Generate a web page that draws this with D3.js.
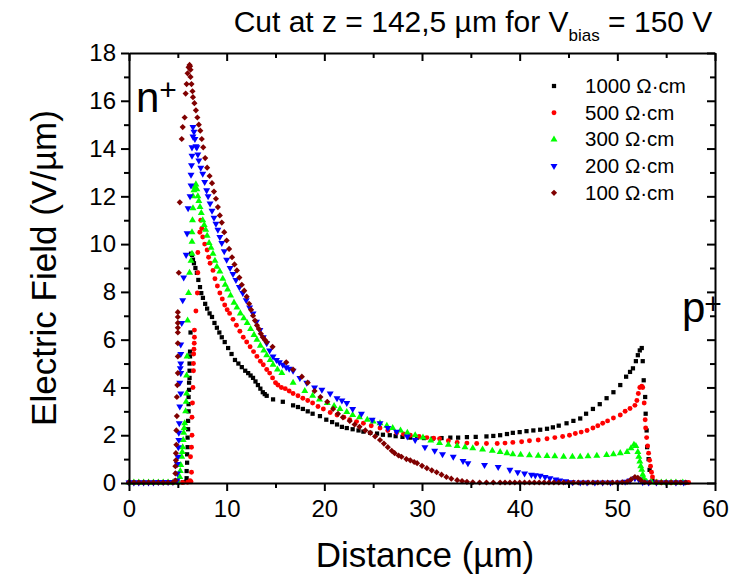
<!DOCTYPE html>
<html>
<head>
<meta charset="utf-8">
<script src="https://cdn.jsdelivr.net/npm/d3@7"></script>
<style>
  body { margin: 0; background: #fff; }
  svg text { font-family: "Liberation Sans", Arial, sans-serif; fill: #000; }
</style>
</head>
<body>
<svg id="chart" width="740" height="579"></svg>
<script>
// values: [distance (µm), field (V/µm)]
var series1000 = [
  [0,0.02],[0.5,0.02],[1,0.02],[1.5,0.02],[2,0.02],[2.5,0.02],[3,0.02],[3.5,0.02],[4,0.02],[4.5,0.02],[5,0.02],[5.5,0.03],
  [5.85,0.05],[5.9,0.2],[5.9,0.5],[5.95,0.85],[5.95,1.2],[6.0,1.5],[6.0,1.9],[6.05,2.25],[6.05,2.6],[6.1,3.0],[6.1,3.3],[6.1,3.6],
  [6.15,3.9],[6.15,4.2],[6.2,4.4],[6.2,4.7],[6.2,5.0],[6.25,5.3],[6.25,5.5],[6.3,6.3],
  [6.35,9.6],[6.45,9.55],[6.55,9.35],[6.65,9.2],[6.8,9.0],[6.95,8.8],[7.1,8.5],[7.27,8.2],[7.4,7.95],[7.57,7.75],[7.8,7.5],
  [8.0,7.3],[8.25,7.1],[8.5,6.95],[8.75,6.7],[9.0,6.5],[9.25,6.3],[9.5,6.1],[9.8,5.9],[10.15,5.65],[10.5,5.4],[10.85,5.15],
  [11.2,5.0],[11.55,4.85],[11.9,4.7],[12.2,4.6],[12.45,4.5],[12.7,4.4],[12.95,4.25],[13.2,4.1],[13.45,3.95],[13.7,3.8],
  [13.9,3.72],[14.1,3.65],[14.75,3.5],[15.75,3.4],[16.8,3.25],[17.3,3.18],[17.8,3.1],[18.3,3.0],[18.8,2.9],[19.55,2.8],
  [20.2,2.65],[20.8,2.55],[21.3,2.45],[21.8,2.35],[22.3,2.3],[22.9,2.25],[23.5,2.2],[24.0,2.15],[24.7,2.1],[25.4,2.07],
  [26.0,2.02],[26.7,2.0],[27.3,1.96],[28.0,1.93],[28.8,1.9],[29.5,1.9],[30.2,1.88],[31.1,1.86],[32.0,1.88],[32.9,1.9],
  [33.7,1.9],[34.6,1.92],[35.5,1.93],[36.6,1.95],[37.3,1.97],[38.0,2.0],[38.7,2.05],[39.3,2.1],[40.0,2.13],[40.7,2.17],
  [41.4,2.2],[42.1,2.23],[42.8,2.27],[43.4,2.33],[44.0,2.4],[44.8,2.5],[45.5,2.6],[46.2,2.7],[46.8,2.9],[47.5,3.1],
  [48.2,3.3],[48.9,3.55],[49.6,3.8],[50.3,4.1],[50.9,4.45],[51.3,4.65],[51.6,4.8],[51.9,5.1],[52.1,5.35],[52.3,5.55],
  [52.5,5.65],[52.6,5.1],[52.7,4.3],[52.85,3.6],[52.9,2.9],[53.0,2.2],[53.05,1.5],[53.2,1.0],[53.3,0.55],[53.6,0.1],
  [54,0.03],[54.5,0.02],[55,0.02],[55.5,0.02],[56,0.02],[56.5,0.02],[57,0.02]
];
var series500 = [
  [0,0.02],[0.5,0.02],[1,0.02],[1.5,0.02],[2,0.02],[2.5,0.02],[3,0.02],[3.5,0.02],[4,0.02],[4.5,0.02],[5,0.02],[5.5,0.02],[6,0.03],
  [6.25,0.1],[6.35,0.05],[6.4,0.45],[6.3,1.1],[6.4,1.5],[6.45,2.0],[6.45,2.75],[6.5,3.35],[6.55,4.0],[6.6,4.7],[6.6,5.0],
  [6.62,5.4],[6.65,5.6],[6.68,5.85],[6.7,6.1],[6.7,6.4],[6.85,7.2],[7.0,7.95],[7.05,8.8],[7.05,9.65],[7.25,10.5],
  [7.35,11.0],[7.45,10.65],[7.55,10.3],[7.75,10.0],[8.0,9.75],[8.15,9.45],[8.3,9.2],[8.6,8.9],[8.8,8.55],[9.05,8.25],
  [9.3,7.95],[9.55,7.7],[9.8,7.45],[10.05,7.25],[10.3,7.1],[10.65,6.85],[11.0,6.6],[11.35,6.35],[11.7,6.1],[12.05,5.9],
  [12.4,5.7],[12.75,5.5],[13.1,5.3],[13.45,5.1],[13.75,4.95],[14.1,4.75],[14.4,4.6],[14.7,4.4],[15.0,4.2],[15.25,4.1],
  [15.6,4.0],[16.0,3.95],[16.4,3.85],[16.8,3.75],[17.3,3.65],[17.8,3.55],[18.3,3.45],[18.8,3.35],[19.35,3.2],[19.9,3.1],
  [20.6,2.95],[21.3,2.85],[22.0,2.75],[22.6,2.65],[23.3,2.57],[24.0,2.5],[24.8,2.4],[25.7,2.3],[26.5,2.2],[27.4,2.1],
  [28.1,2.05],[28.8,2.0],[29.7,1.95],[30.5,1.9],[31.2,1.87],[31.8,1.85],[32.7,1.77],[33.6,1.7],[34.6,1.67],[35.6,1.65],
  [36.6,1.65],[37.7,1.65],[38.5,1.67],[39.3,1.7],[40.2,1.73],[41.0,1.77],[41.9,1.8],[42.8,1.85],[43.6,1.9],[44.4,1.95],
  [45.1,2.0],[45.7,2.07],[46.3,2.13],[46.9,2.2],[47.5,2.3],[48.0,2.4],[48.5,2.5],[49.0,2.6],[49.6,2.72],[50.3,2.85],
  [50.8,3.0],[51.3,3.12],[51.8,3.25],[52.0,3.45],[52.15,3.75],[52.3,4.0],[52.5,4.05],[52.6,4.0],[52.75,3.35],[52.85,2.65],
  [52.9,2.3],[53.0,1.9],[53.1,1.55],[53.2,1.25],[53.3,0.95],[53.4,0.7],[53.5,0.45],[53.6,0.25],[54.0,0.05],[54.5,0.03],
  [55,0.02],[55.5,0.02],[56,0.02],[56.5,0.02],[57.3,0.02]
];
var series300 = [
  [0,0.02],[0.5,0.02],[1,0.02],[1.5,0.02],[2,0.02],[2.5,0.02],[3,0.02],[3.5,0.02],[4,0.02],[4.5,0.02],[5,0.03],
  [5.2,0.25],[5.25,0.5],[5.3,0.75],[5.4,1.1],[5.45,1.3],[5.5,1.5],[5.55,1.8],[5.6,2.1],[5.65,2.3],[5.7,2.5],[5.8,3.0],
  [5.85,3.4],[5.9,3.75],[5.9,4.5],[5.95,5.3],[6.0,6.8],[6.1,7.95],[6.2,8.8],[6.35,9.3],[6.45,9.6],[6.45,10.1],[6.45,10.5],
  [6.5,11.0],[6.55,11.5],[6.55,12.0],[6.65,12.25],[6.75,12.4],[6.85,12.5],[6.95,12.3],[7.05,12.0],[7.15,11.8],[7.27,11.55],
  [7.4,11.3],[7.55,11.0],[7.7,10.8],[7.85,10.6],[8.0,10.35],[8.2,10.05],[8.4,9.85],[8.6,9.6],[8.8,9.3],[9.0,9.05],
  [9.3,8.85],[9.6,8.55],[9.85,8.3],[10.1,8.1],[10.4,7.85],[10.75,7.55],[11.05,7.35],[11.4,7.1],[11.75,6.9],[12.1,6.7],
  [12.45,6.45],[12.8,6.2],[13.1,6.0],[13.45,5.75],[13.8,5.55],[14.1,5.35],[14.45,5.15],[14.75,4.95],[15.2,4.75],[15.65,4.6],
  [16.8,4.2],[18.0,3.85],[18.8,3.65],[19.5,3.5],[20.3,3.35],[21.0,3.22],[21.6,3.1],[22.3,2.97],[22.9,2.85],[23.6,2.75],
  [24.4,2.65],[25.0,2.57],[25.7,2.5],[26.4,2.4],[27.0,2.3],[27.8,2.2],[28.5,2.1],[29.3,2.0],[30.1,1.9],[30.9,1.78],
  [31.8,1.67],[32.7,1.6],[33.6,1.55],[34.4,1.5],[35.2,1.45],[36.2,1.4],[37.2,1.35],[38.0,1.3],[38.7,1.25],[39.3,1.2],
  [40.1,1.18],[41.0,1.16],[41.9,1.14],[42.8,1.13],[43.6,1.12],[44.5,1.1],[45.4,1.1],[46.2,1.1],[47.0,1.12],[47.9,1.14],
  [48.9,1.17],[49.6,1.2],[50.3,1.25],[51.0,1.3],[51.4,1.45],[51.7,1.6],[51.9,1.55],[52.1,1.3],[52.2,1.1],[52.3,0.9],
  [52.4,0.7],[52.5,0.55],[52.6,0.35],[52.7,0.2],[53.0,0.05],[53.5,0.03],[54,0.02],[54.5,0.02],[55,0.02],[55.5,0.02],
  [56,0.02],[56.7,0.02]
];
var series200 = [
  [0,0.02],[0.5,0.02],[1,0.02],[1.5,0.02],[2,0.02],[2.5,0.02],[3,0.04],[3.5,0.04],[4,0.04],[4.5,0.04],
  [4.9,0.1],[4.95,0.4],[4.95,0.8],[5.0,1.1],[5.05,1.5],[5.1,1.8],[5.1,2.1],[5.15,2.5],[5.2,3.2],[5.3,3.75],[5.2,4.2],
  [5.3,4.6],[5.25,4.8],[5.3,5.0],[5.3,5.4],[5.3,5.8],[5.4,6.7],[5.5,7.65],[5.6,8.6],[5.85,9.55],[5.95,10.45],[6.05,11.5],
  [6.25,12.0],[6.35,12.45],[6.35,12.9],[6.4,13.3],[6.45,13.7],[6.45,14.05],[6.55,14.5],[6.55,14.9],[6.65,14.7],[6.75,14.4],
  [6.85,14.1],[6.95,14.05],[7.05,13.75],[7.15,13.5],[7.35,13.2],[7.55,12.95],[7.75,12.6],[7.95,12.25],[8.1,12.0],[8.3,11.7],
  [8.5,11.4],[8.7,11.1],[8.9,10.85],[9.1,10.6],[9.3,10.3],[9.5,10.05],[9.75,9.7],[10.0,9.35],[10.35,9.0],[10.65,8.75],
  [10.95,8.5],[11.3,8.2],[11.65,7.95],[12.0,7.65],[12.35,7.35],[12.7,7.1],[13.05,6.75],[13.4,6.4],[13.75,6.1],[14.1,5.85],
  [14.4,5.55],[14.75,5.3],[15.1,5.15],[15.4,5.05],[15.75,4.95],[16.1,4.85],[16.4,4.78],[16.8,4.7],[17.5,4.4],[18.2,4.2],
  [19.0,4.0],[19.75,3.9],[20.6,3.75],[21.3,3.55],[21.8,3.45],[22.3,3.35],[22.9,3.1],[23.8,2.9],[24.9,2.65],[25.7,2.5],
  [26.5,2.3],[27.4,2.15],[28.5,1.95],[29.3,1.8],[30.3,1.5],[31.3,1.35],[32.1,1.2],[33.2,1.1],[34.2,0.92],[34.7,0.83],
  [36.4,0.75],[37.8,0.67],[39.0,0.55],[39.8,0.45],[40.5,0.4],[41.2,0.35],[41.6,0.32],[42.1,0.3],[42.6,0.25],[43.1,0.2],
  [43.7,0.15],[44.1,0.1],[44.7,0.07],[45.4,0.03],[46.2,0.02],[46.9,0.02],[47.7,0.02],[48.5,0.02],[49.3,0.02],[50.1,0.02],
  [50.8,0.05],[51.3,0.1],[51.8,0.2],[52.2,0.15],[52.6,0.03],[53.2,0.02],[54,0.02],[55,0.02],[56,0.02],[56.8,0.02]
];
var series100 = [
  [0,0.02],[0.5,0.02],[1,0.02],[1.5,0.02],[2,0.02],[2.5,0.02],[3,0.02],[3.5,0.02],[4,0.02],[4.5,0.02],
  [4.75,0.1],[4.75,0.4],[4.75,0.7],[4.8,0.95],[4.8,1.25],[4.85,1.6],[4.85,2.2],[4.9,2.8],[4.9,3.6],[4.95,4.1],[5.0,4.6],
  [5.0,5.3],[5.0,5.85],[5.0,6.3],[5.0,6.5],[5.0,6.7],[5.0,6.95],[5.0,7.15],[5.1,8.8],[5.2,11.75],[5.4,14.4],[5.5,14.9],
  [5.7,15.3],[5.8,16.3],[5.9,16.7],[6.0,17.15],[6.1,17.4],[6.2,17.5],[6.25,17.45],[6.3,17.3],[6.3,17.0],[6.4,16.7],
  [6.5,16.4],[6.55,16.15],[6.7,15.9],[6.85,15.6],[7.0,15.3],[7.15,15.0],[7.3,14.75],[7.45,14.4],[7.6,14.05],[7.8,13.6],
  [8.0,13.2],[8.25,12.85],[8.5,12.55],[8.7,12.2],[8.9,11.9],[9.1,11.55],[9.3,11.2],[9.5,10.9],[9.75,10.5],[10.0,10.15],
  [10.25,9.8],[10.55,9.45],[10.8,9.15],[11.05,8.9],[11.3,8.6],[11.55,8.3],[11.8,8.05],[12.05,7.8],[12.3,7.5],[12.5,7.25],
  [12.7,7.0],[12.9,6.8],[13.1,6.6],[13.3,6.45],[13.5,6.25],[13.7,6.1],[13.9,6.0],[14.1,5.9],[14.7,5.7],[16.1,5.05],
  [16.8,4.75],[17.7,4.45],[18.3,4.2],[19.0,3.85],[19.6,3.6],[20.3,3.4],[20.9,3.1],[21.4,2.9],[21.9,2.75],[22.6,2.6],
  [23.1,2.45],[23.6,2.35],[24.2,2.2],[24.7,2.1],[25.2,1.95],[25.7,1.8],[26.1,1.65],[26.5,1.5],[26.9,1.35],[27.2,1.25],
  [27.6,1.15],[27.9,1.1],[28.4,1.0],[28.8,0.95],[29.2,0.88],[29.5,0.83],[30.0,0.72],[30.5,0.62],[31.0,0.53],[31.5,0.45],
  [32.0,0.35],[32.5,0.25],[33.0,0.18],[33.6,0.12],[34.1,0.08],[34.6,0.05],[35.2,0.03],[35.9,0.02],[36.6,0.02],[37.3,0.02],
  [38,0.02],[38.5,0.02],[39,0.02],[39.5,0.02],[40,0.02],[40.5,0.02],[41,0.02],[41.5,0.02],[42,0.02],[42.5,0.02],[43,0.02],
  [43.5,0.02],[44,0.02],[44.5,0.02],[45,0.02],[45.5,0.02],[46,0.02],[46.5,0.02],[47,0.02],[47.5,0.02],[48,0.02],[48.5,0.02],
  [49,0.02],[49.5,0.02],[50,0.02],[50.5,0.03],[51.0,0.05],[51.4,0.15],[51.8,0.25],[52.1,0.22],[52.4,0.12],[52.8,0.03],
  [53.3,0.02],[54,0.02],[54.5,0.02],[55,0.02],[55.5,0.02],[56,0.02],[56.5,0.02],[57,0.02]
];

var seriesNames = ["1000 Ω·cm", "500 Ω·cm", "300 Ω·cm", "200 Ω·cm", "100 Ω·cm"];
var seriesColors = ["#000000", "#ff0000", "#00ff00", "#0000ff", "#800000"];
var seriesData = [series1000, series500, series300, series200, series100];
var xTicks = [0, 10, 20, 30, 40, 50, 60];
var xMinor = [5, 15, 25, 35, 45, 55];
var yTicks = [0, 2, 4, 6, 8, 10, 12, 14, 16, 18];
var yMinor = [1, 3, 5, 7, 9, 11, 13, 15, 17];

var svg = d3.select("#chart");
var margin = {left: 129, right: 715, top: 53, bottom: 483};

var x = d3.scaleLinear().domain([0, 60]).range([margin.left, margin.right]);
var y = d3.scaleLinear().domain([0, 18]).range([margin.bottom, margin.top]);

// marker shapes: square, circle, up triangle, down triangle, diamond
var markerShapes = [
  {type: d3.symbolSquare, size: 18, rot: 0},
  {type: d3.symbolCircle, size: 19, rot: 0},
  {type: d3.symbolTriangle, size: 21, rot: 0},
  {type: d3.symbolTriangle, size: 21, rot: 180},
  {type: d3.symbolSquare, size: 19, rot: 45}
];

function drawMarker(g, idx, px, py) {
  var m = markerShapes[idx];
  g.append("path")
    .attr("d", d3.symbol().type(m.type).size(m.size)())
    .attr("transform", "translate(" + px + "," + py + ") rotate(" + m.rot + ")")
    .attr("fill", seriesColors[idx]);
}

// data points
var plot = svg.append("g").attr("class", "points");
seriesData.forEach(function(data, i) {
  var g = plot.append("g");
  data.forEach(function(d) {
    drawMarker(g, i, x(d[0]), y(d[1]));
  });
});

// axes
var axisG = svg.append("g").attr("class", "axes");
function styleAxis(g) {
  g.selectAll("path.domain").attr("stroke", "#000").attr("stroke-width", 2);
  g.selectAll(".tick line").attr("stroke", "#000").attr("stroke-width", 2);
  g.selectAll(".tick text").style("font-size", "24px");
}

// bottom
var xb = axisG.append("g").attr("transform", "translate(0," + margin.bottom + ")")
  .call(d3.axisBottom(x).tickValues(xTicks).tickSize(8).tickSizeOuter(0).tickPadding(9).tickFormat(d3.format("d")));
styleAxis(xb);
axisG.append("g").attr("transform", "translate(0," + margin.bottom + ")")
  .call(d3.axisBottom(x).tickValues(xMinor).tickSize(5).tickFormat(""))
  .call(function(g) { g.select(".domain").remove(); styleAxis(g); });

// left
var yl = axisG.append("g").attr("transform", "translate(" + margin.left + ",0)")
  .call(d3.axisLeft(y).tickValues(yTicks).tickSize(8).tickSizeOuter(0).tickPadding(5).tickFormat(d3.format("d")));
styleAxis(yl);
axisG.append("g").attr("transform", "translate(" + margin.left + ",0)")
  .call(d3.axisLeft(y).tickValues(yMinor).tickSize(5).tickFormat(""))
  .call(function(g) { g.select(".domain").remove(); styleAxis(g); });

// top (ticks inside)
axisG.append("g").attr("transform", "translate(0," + margin.top + ")")
  .call(d3.axisTop(x).tickValues(xTicks).tickSize(-8).tickSizeOuter(0).tickFormat(""))
  .call(styleAxis);
axisG.append("g").attr("transform", "translate(0," + margin.top + ")")
  .call(d3.axisTop(x).tickValues(xMinor).tickSize(-5).tickFormat(""))
  .call(function(g) { g.select(".domain").remove(); styleAxis(g); });

// right (ticks inside)
axisG.append("g").attr("transform", "translate(" + margin.right + ",0)")
  .call(d3.axisRight(y).tickValues(yTicks).tickSize(-8).tickSizeOuter(0).tickFormat(""))
  .call(styleAxis);
axisG.append("g").attr("transform", "translate(" + margin.right + ",0)")
  .call(d3.axisRight(y).tickValues(yMinor).tickSize(-5).tickFormat(""))
  .call(function(g) { g.select(".domain").remove(); styleAxis(g); });

// title
var title = svg.append("text")
  .attr("x", 473).attr("y", 32)
  .attr("text-anchor", "middle")
  .style("font-size", "30px");
title.append("tspan").text("Cut at z = 142,5 µm for V");
title.append("tspan").text("bias").attr("dy", 9).style("font-size", "17px");
title.append("tspan").text(" = 150 V").attr("dy", -9);

// axis titles
svg.append("text")
  .attr("x", 425).attr("y", 567)
  .attr("text-anchor", "middle")
  .style("font-size", "35px")
  .text("Distance (µm)");

svg.append("text")
  .attr("transform", "translate(56,268) rotate(-90)")
  .attr("text-anchor", "middle")
  .style("font-size", "35px")
  .text("Electric Field (V/µm)");

// region labels
var nLab = svg.append("text").attr("x", 136).attr("y", 112).style("font-size", "42px");
nLab.append("tspan").text("n");
nLab.append("tspan").text("+").attr("dy", -12).style("font-size", "30px");

var pLab = svg.append("text").attr("x", 682).attr("y", 322).style("font-size", "42px");
pLab.append("tspan").text("p");
pLab.append("tspan").text("+").attr("dy", -8).attr("dx", -1).style("font-size", "30px");

// legend
var legend = svg.append("g").attr("class", "legend");
seriesNames.forEach(function(name, i) {
  var ly = 86 + i * 26.7;
  drawMarker(legend, i, 554, ly);
  legend.append("text")
    .attr("x", 585).attr("y", ly + 7)
    .style("font-size", "20.5px")
    .text(name);
});
</script>
</body>
</html>
